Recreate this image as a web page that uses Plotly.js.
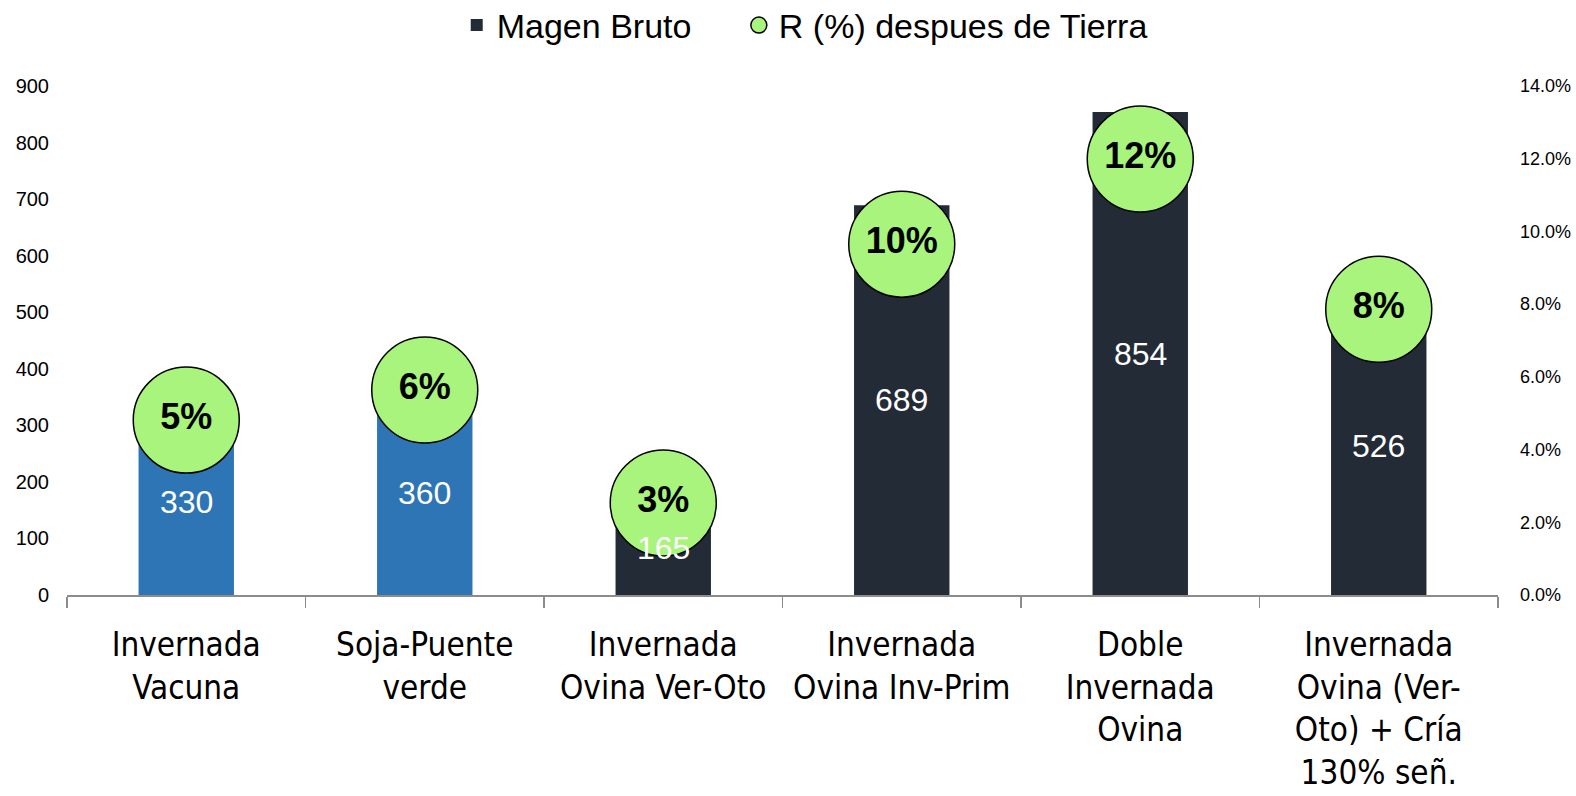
<!DOCTYPE html>
<html>
<head>
<meta charset="utf-8">
<script src="https://cdn.plot.ly/plotly-3.0.1.min.js"></script>
<style>html,body{margin:0;padding:0;background:#fff;}#chart{width:1576px;height:796px;}</style>
</head>
<body>
<div id="chart"></div>
<script>
// ---- data ----
const categories = [
  'Invernada<br>Vacuna',
  'Soja-Puente<br>verde',
  'Invernada<br>Ovina Ver-Oto',
  'Invernada<br>Ovina Inv-Prim',
  'Doble<br>Invernada<br>Ovina',
  'Invernada<br>Ovina (Ver-<br>Oto) + Cría<br>130% señ.'
];
const margenBruto = [330, 360, 165, 689, 854, 526];
const rDespuesTierra = [0.0481, 0.0564, 0.0253, 0.0965, 0.1199, 0.0786];
const barGroup = ['blue', 'blue', 'dark', 'dark', 'dark', 'dark'];
const leftTicks = [0, 100, 200, 300, 400, 500, 600, 700, 800, 900];
const rightTicks = [0, 0.02, 0.04, 0.06, 0.08, 0.10, 0.12, 0.14];

// ---- styles ----
const BLUE = '#2E75B6';
const DARK = '#232B36';
const GREEN = '#A8F47C';
const NARROW = '"Liberation Sans Narrow", "Arial Narrow", "DejaVu Sans Condensed", sans-serif';
const SANS = '"Liberation Sans", Arial, sans-serif';

function pick(arr, g) { return arr.filter((_, i) => barGroup[i] === g); }

const traces = [
  {
    type: 'bar', name: 'Magen Bruto', legend: 'legend',
    x: pick(categories, 'dark'), y: pick(margenBruto, 'dark'),
    marker: {color: DARK}, yaxis: 'y', hoverinfo: 'skip'
  },
  {
    type: 'bar', name: 'Magen Bruto (azul)', showlegend: false,
    x: pick(categories, 'blue'), y: pick(margenBruto, 'blue'),
    marker: {color: BLUE}, yaxis: 'y', hoverinfo: 'skip'
  },
  {
    type: 'scatter', mode: 'markers+text', name: 'R (%) despues de Tierra', legend: 'legend2',
    x: categories, y: rDespuesTierra, yaxis: 'y2',
    marker: {size: 106, color: GREEN, line: {color: '#000', width: 1.5}},
    texttemplate: '%{y:.0%}', textposition: 'middle center',
    textfont: {family: SANS, size: 36, color: '#000', weight: 'bold'},
    cliponaxis: false, hoverinfo: 'skip'
  }
];

const annotations = categories.map((c, i) => ({
  x: c, y: margenBruto[i] / 2, xref: 'x', yref: 'y',
  text: String(margenBruto[i]), showarrow: false,
  font: {family: SANS, size: 32, color: '#fff'},
  xanchor: 'center', yanchor: 'middle'
}));

const legendBase = {
  orientation: 'h', xref: 'container', yref: 'container',
  xanchor: 'left', y: 0.968, yanchor: 'middle',
  font: {family: SANS, size: 34, color: '#000'},
  itemwidth: 30, bgcolor: 'rgba(0,0,0,0)', borderwidth: 0
};

const layout = {
  width: 1576, height: 796,
  margin: {l: 67, r: 78, t: 86, b: 201, pad: 0},
  paper_bgcolor: '#fff', plot_bgcolor: '#fff',
  barmode: 'overlay', bargap: 0.6,
  hovermode: false,
  showlegend: true,
  legend: Object.assign({}, legendBase, {x: 0.2898}),
  legend2: Object.assign({}, legendBase, {x: 0.4688}),
  xaxis: {
    type: 'category', categoryorder: 'array', categoryarray: categories,
    range: [-0.5, categories.length - 0.5], autorange: false,
    showline: true, linecolor: '#8C8C8C', linewidth: 2,
    ticks: 'outside', tickson: 'boundaries', ticklen: 11, tickwidth: 1.5, tickcolor: '#8C8C8C',
    tickangle: 0, ticklabelstandoff: 19,
    tickfont: {family: NARROW, size: 33, color: '#000'},
    showgrid: false, zeroline: false, fixedrange: true
  },
  yaxis: {
    range: [0, 900], autorange: false, tickmode: 'array', tickvals: leftTicks,
    showline: false, showgrid: false, zeroline: false, ticks: '',
    tickfont: {family: SANS, size: 20, color: '#000'},
    ticklabelstandoff: 17, fixedrange: true
  },
  yaxis2: {
    range: [0, 0.14], autorange: false, overlaying: 'y', side: 'right',
    tickmode: 'array', tickvals: rightTicks, tickformat: '.1%',
    showline: false, showgrid: false, zeroline: false, ticks: '',
    tickfont: {family: SANS, size: 18, color: '#000'},
    ticklabelstandoff: 21, fixedrange: true
  },
  annotations: annotations
};

Plotly.newPlot('chart', traces, layout, {displayModeBar: false, staticPlot: true});
</script>
</body>
</html>
